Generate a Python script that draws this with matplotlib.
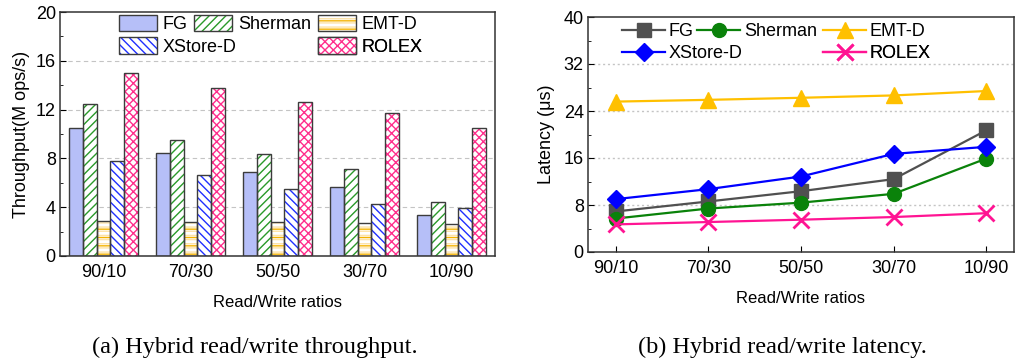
import numpy as np
import matplotlib
matplotlib.use("Agg")
import matplotlib.pyplot as plt
from matplotlib.patches import Patch
from matplotlib.legend_handler import HandlerTuple
from matplotlib.ticker import MultipleLocator

plt.rcParams['font.family'] = ['Liberation Sans', 'DejaVu Sans']
plt.rcParams['hatch.linewidth'] = 1.0

# Data
ratios = ['90/10', '70/30', '50/50', '30/70', '10/90']
systems = ['FG', 'Sherman', 'EMT-D', 'XStore-D', 'ROLEX']

tput_fg = [10.5, 8.46, 6.88, 5.69, 3.40]
tput_sherman = [12.46, 9.5, 8.4, 7.1, 4.44]
tput_emt = [2.83, 2.75, 2.75, 2.69, 2.59]
tput_xstore = [7.81, 6.67, 5.52, 4.27, 3.95]
tput_rolex = [15.02, 13.77, 12.63, 11.73, 10.5]

lat_fg = [6.9, 8.6, 10.35, 12.4, 20.7]
lat_sherman = [5.7, 7.4, 8.4, 9.9, 15.9]
lat_emt = [25.6, 25.9, 26.25, 26.65, 27.4]
lat_xstore = [9.0, 10.7, 12.85, 16.7, 17.9]
lat_rolex = [4.7, 5.1, 5.5, 5.95, 6.6]

W, H = 1023, 364
fig = plt.figure(figsize=(W / 100, H / 100), dpi=100)
ax1 = fig.add_axes([60 / W, 1 - 256 / H, (495 - 60) / W, (256 - 12) / H])
ax2 = fig.add_axes([588 / W, 1 - 252 / H, (1014 - 588) / W, (252 - 17) / H])

edge = '#3c3c3c'


def put_legend(ax, handle, label, px, py, **kw):
    # one legend entry, handle's left edge at pixel (px, py-center)
    leg = ax.legend([handle], [label], loc='center left',
                    bbox_to_anchor=(px / W, 1 - py / H), bbox_transform=fig.transFigure,
                    frameon=False, fontsize=13, borderpad=0, borderaxespad=0,
                    handler_map={tuple: HandlerTuple(ndivide=1)}, **kw)
    ax.add_artist(leg)


# --- (a) throughput bars
tputs = [tput_fg, tput_sherman, tput_emt, tput_xstore, tput_rolex]
faces = ['#b6bff8', 'white', 'white', 'white', 'white']
hcols = [edge, '#2a9a2a', '#f5b300', '#1f2fff', '#ff2e8c']
hatches = [None, '////', '--', '\\\\\\\\', 'xxxx']
x = np.arange(len(ratios))
w = 0.16
handles = []
for i, (vals, fc, hc, ht) in enumerate(zip(tputs, faces, hcols, hatches)):
    xi = x + (i - 2) * w
    layers = [Patch(facecolor=fc, edgecolor=hc, hatch=ht, lw=0)]
    if systems[i] == 'EMT-D':
        # pale stripes between the orange ones
        ax1.bar(xi, vals, w, color=fc, edgecolor='#fde2a6', hatch='----', lw=0, zorder=2)
        ax1.bar(xi, vals, w, fill=False, edgecolor=hc, hatch=ht, lw=0, zorder=2)
        layers = [Patch(facecolor=fc, edgecolor='#fde2a6', hatch='----', lw=0),
                  Patch(fill=False, edgecolor=hc, hatch=ht, lw=0)]
    else:
        ax1.bar(xi, vals, w, color=fc, edgecolor=hc, hatch=ht, lw=0, zorder=2)
    ax1.bar(xi, vals, w, fill=False, edgecolor=edge, lw=1.0, zorder=3)
    handles.append(tuple(layers + [Patch(fill=False, edgecolor=edge, lw=1.0)]))

pos1 = [(119, 24), (194, 24), (318, 24), (119, 46.5), (318, 46.5)]
for h, lab, (px, py) in zip(handles, systems, pos1):
    put_legend(ax1, h, lab, px, py, handlelength=2.1, handleheight=1.05, handletextpad=0.33)

ax1.set_xlim(-0.5, 4.5)
ax1.set_ylim(0, 20)
ax1.set_xticks(x)
ax1.set_xticklabels(ratios)
ax1.yaxis.set_major_locator(MultipleLocator(4))
ax1.yaxis.set_minor_locator(MultipleLocator(2))
ax1.tick_params(axis='x', length=0, labelsize=13, pad=6)
ax1.tick_params(axis='y', which='major', direction='in', length=4, labelsize=13, pad=3)
ax1.tick_params(axis='y', which='minor', direction='in', length=2.5)
for yv in [4, 8, 12, 16]:
    ax1.axhline(yv, color='#c4c4c4', ls=(0, (4, 3)), lw=0.8, zorder=0)
ax1.set_ylabel('Throughput(M ops/s)', fontsize=13, labelpad=4)
ax1.set_xlabel('Read/Write ratios', fontsize=12, labelpad=10)

# --- (b) latency lines
lats = [lat_fg, lat_sherman, lat_emt, lat_xstore, lat_rolex]
lcols = ['#505050', '#0a820a', '#ffc000', '#0000ff', '#ff1493']
markers = ['s', 'o', '^', 'D', 'x']
msizes = [10, 10, 12, 9, 12]
lines = []
for vals, c, m, ms, lab in zip(lats, lcols, markers, msizes, systems):
    ln, = ax2.plot(x, vals, color=c, marker=m, ms=ms, lw=1.6, mew=2 if m == 'x' else 1,
                   label=lab, zorder=3, clip_on=False)
    lines.append(ln)

pos2 = [(622, 32), (697, 32), (823, 32), (622, 53.7), (823, 53.7)]
for ln, lab, (px, py) in zip(lines, systems, pos2):
    put_legend(ax2, ln, lab, px, py, handlelength=2.4, handletextpad=0.2)

ax2.set_xlim(-0.3, 4.3)
ax2.set_ylim(0, 40)
ax2.set_xticks(x)
ax2.set_xticklabels(ratios)
ax2.yaxis.set_major_locator(MultipleLocator(8))
ax2.yaxis.set_minor_locator(MultipleLocator(4))
ax2.tick_params(axis='x', direction='in', length=4, labelsize=13, pad=6)
ax2.tick_params(axis='y', which='major', direction='in', length=4, labelsize=13, pad=3)
ax2.tick_params(axis='y', which='minor', direction='in', length=2.5)
for yv in [8, 16, 24, 32]:
    ax2.axhline(yv, color='#c4c4c4', ls=(0, (1.5, 2)), lw=1.0, zorder=0)
ax2.set_ylabel('Latency (μs)', fontsize=13, labelpad=6)
ax2.set_xlabel('Read/Write ratios', fontsize=12, labelpad=10)

for ax in (ax1, ax2):
    for sp in ax.spines.values():
        sp.set_color('#333333')
        sp.set_linewidth(1.1)

fig.text(255 / W, 1 - 347 / H, '(a) Hybrid read/write throughput.', ha='center', va='center',
         fontsize=17.5, family=['Liberation Serif', 'DejaVu Serif'])
fig.text(782 / W, 1 - 347 / H, '(b) Hybrid read/write latency.', ha='center', va='center',
         fontsize=17.5, family=['Liberation Serif', 'DejaVu Serif'])

fig.savefig('out.png', dpi=100)
